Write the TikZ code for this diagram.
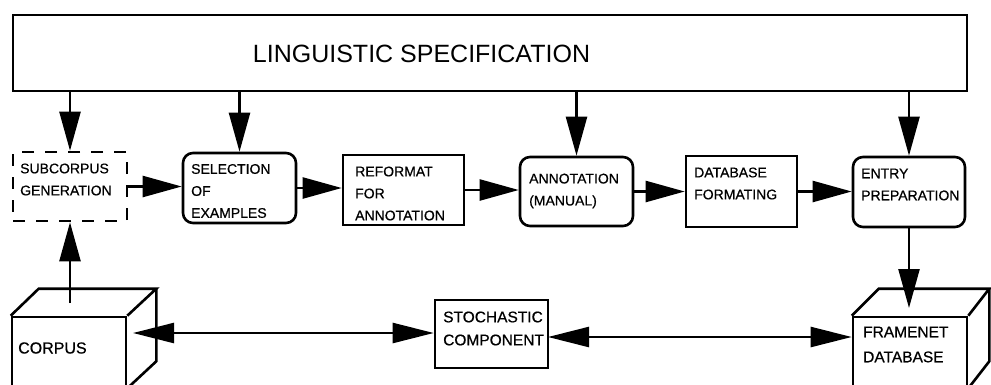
\documentclass[tikz,border=0pt]{standalone}
\usepackage{fontspec}
\setmainfont{Liberation Sans}
\newfontfamily\boxfont[FakeBold=0.6]{Liberation Sans}
\usetikzlibrary{arrows.meta,calc}
\begin{document}
\begin{tikzpicture}[x=1pt,y=-1pt,
  box/.style={draw,line width=2.6pt,inner sep=0pt},
  rbox/.style={box,rounded corners=10pt},
  dbox/.style={box,dash pattern=on 12pt off 11pt},
  txt/.style={inner sep=0pt,align=left,anchor=west,font=\boxfont\fontsize{14}{22}\selectfont},
  arr/.style={line width=2.4pt,-{Triangle[length=39pt,width=21pt]}},
  darr/.style={line width=2.4pt,{Triangle[length=41pt,width=20pt]}-{Triangle[length=41pt,width=20pt]}},
  cube/.style={line width=2.6pt,line join=miter}
]
\useasboundingbox (0,0) rectangle (991,384);
% top specification box
\node[box,minimum width=954pt,minimum height=76pt] (spec) at (490,53) {};
\node[inner sep=0pt,font=\fontsize{25}{25}\selectfont] (spect) at (421.5,54) {LINGUISTIC SPECIFICATION};
% process boxes
\node[dbox,minimum width=114pt,minimum height=69pt] (sub) at (70,186.5) {};
\node[rbox,minimum width=113pt,minimum height=70pt] (sel) at (239.5,188) {};
\node[box,minimum width=121pt,minimum height=70pt] (ref) at (403.5,190) {};
\node[rbox,minimum width=113pt,minimum height=69pt] (ann) at (576.5,191.5) {};
\node[box,minimum width=111pt,minimum height=71pt] (db) at (741.5,191.5) {};
\node[rbox,minimum width=112pt,minimum height=70pt] (ent) at (909,192) {};
\node[box,minimum width=113pt,minimum height=68pt] (sto) at (491.5,334) {};
% texts
\node[txt] (subt) at (20,179.5) {SUBCORPUS\\GENERATION};
\node[txt] (selt) at (191,191) {SELECTION\\OF\\EXAMPLES};
\node[txt] (reft) at (355,193.5) {REFORMAT\\FOR\\ANNOTATION};
\node[txt] (annt) at (529,191) {ANNOTATION\\(MANUAL)};
\node[txt] (dbt) at (694,183.5) {DATABASE\\FORMATING};
\node[txt] (entt) at (861,184.5) {ENTRY\\PREPARATION};
\node[txt,font=\boxfont\fontsize{15.5}{23}\selectfont] (stot) at (443,328.5) {STOCHASTIC\\COMPONENT};
% cubes
\node[box,minimum width=114pt,minimum height=70pt] (corpus) at (69,352) {};
\draw[cube] (corpus.north west) -- ++(28,-27) -- ($(corpus.north east)+(29,-27)$) -- (corpus.north east);
\draw[cube] ($(corpus.north east)+(29,-27)$) -- ($(corpus.south east)+(29,-27)$) -- (corpus.south east);
\node[txt,font=\boxfont\fontsize{16}{24}\selectfont] (corpust) at (18,348) {CORPUS};
\node[box,minimum width=114pt,minimum height=70pt] (fn) at (910,352) {};
\draw[cube] (fn.north west) -- ++(27,-27) -- ($(fn.north east)+(21,-27)$) -- (fn.north east);
\draw[cube] ($(fn.north east)+(21,-27)$) -- ($(fn.south east)+(21,-27)$) -- (fn.south east);
\node[txt,font=\boxfont\fontsize{15.5}{25}\selectfont] (fnt) at (863,344.5) {FRAMENET\\DATABASE};
% connector end points
\coordinate (ctop) at (70,303);
\coordinate (fntop) at (909,308);
\coordinate (cside) at (133,333);
\coordinate (sside) at (548,337);
% arrows from specification
\draw[arr] (sub.north |- spec.south) -- (sub.north);
\draw[arr] (sel.north |- spec.south) -- (sel.north);
\draw[arr] (ann.north |- spec.south) -- (ann.north);
\draw[arr] (ent.north |- spec.south) -- (ent.north);
% process chain
\draw[arr] (sub.east) -- (sub.east -| sel.west);
\draw[arr] (sel.east) -- (sel.east -| ref.west);
\draw[arr] (ref.east) -- (ref.east -| ann.west);
\draw[arr] (ann.east) -- (ann.east -| db.west);
\draw[arr] (db.east) -- (db.east -| ent.west);
% corpus and database
\draw[arr] (ctop) -- (sub.south);
\draw[arr] (ent.south) -- (fntop);
\draw[darr] (cside) -- (cside -| sto.west);
\draw[darr] (sside) -- (sside -| fn.west);
\end{tikzpicture}
\end{document}
